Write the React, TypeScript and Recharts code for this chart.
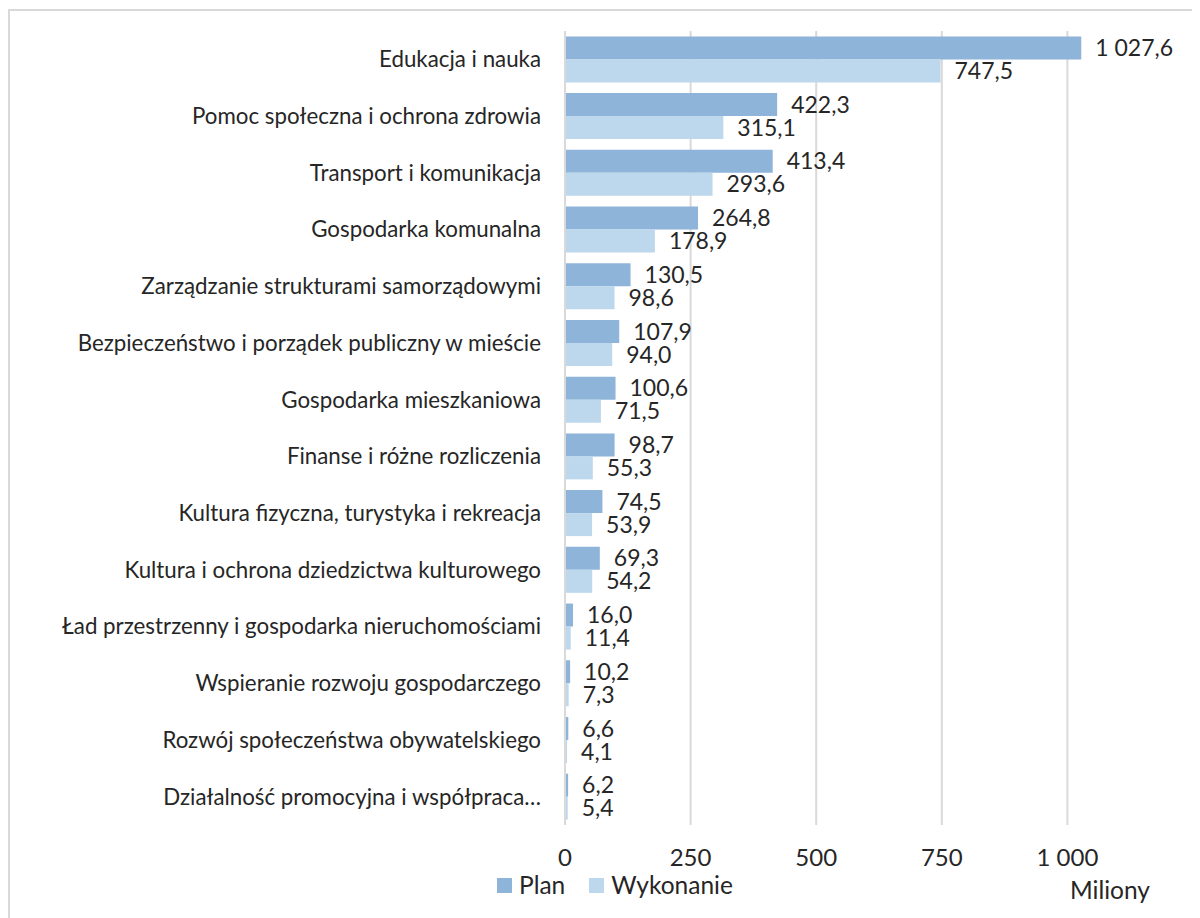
import { BarChart, Bar, XAxis, YAxis, CartesianGrid, LabelList, Legend } from 'recharts';

const categories = [
  'Edukacja i nauka',
  'Pomoc społeczna i ochrona zdrowia',
  'Transport i komunikacja',
  'Gospodarka komunalna',
  'Zarządzanie strukturami samorządowymi',
  'Bezpieczeństwo i porządek publiczny w mieście',
  'Gospodarka mieszkaniowa',
  'Finanse i różne rozliczenia',
  'Kultura fizyczna, turystyka i rekreacja',
  'Kultura i ochrona dziedzictwa kulturowego',
  'Ład przestrzenny i gospodarka nieruchomościami',
  'Wspieranie rozwoju gospodarczego',
  'Rozwój społeczeństwa obywatelskiego',
  'Działalność promocyjna i współpraca…',
];

const plan = [1027.6, 422.3, 413.4, 264.8, 130.5, 107.9, 100.6, 98.7, 74.5, 69.3, 16.0, 10.2, 6.6, 6.2];
const wykonanie = [747.5, 315.1, 293.6, 178.9, 98.6, 94.0, 71.5, 55.3, 53.9, 54.2, 11.4, 7.3, 4.1, 5.4];

const xTicks = [0, 250, 500, 750, 1000];

const COLORS = {
  plan: '#8eb4da',
  wykonanie: '#bdd7ec',
};

const FONT = 'Lato, "Open Sans", sans-serif';
const TEXT = '#262626';

const fmt = (v: any) => {
  const n = Number(v);
  const [int, dec] = n.toFixed(1).split('.');
  return int.replace(/\B(?=(\d{3})+(?!\d))/g, ' ') + ',' + dec;
};

const fmtTick = (v: any) => String(v).replace(/\B(?=(\d{3})+(?!\d))/g, ' ');

const renderLegend = (props: any) => (
  <div style={{ display: 'flex', alignItems: 'center', fontSize: 24.5, color: TEXT, fontFamily: FONT, lineHeight: '28px' }}>
    {props.payload.map((p: any) => (
      <div key={p.value} style={{ display: 'flex', alignItems: 'center', marginRight: 24 }}>
        <span style={{ width: 15, height: 15, background: p.color, marginRight: 7, display: 'inline-block' }} />
        <span>{p.value}</span>
      </div>
    ))}
  </div>
);

export default function App() {
  const data = categories.map((name, i) => ({ name, plan: plan[i], wykonanie: wykonanie[i] }));

  return (
    <div
      style={{
        position: 'relative',
        marginTop: 1,
        width: 1200,
        height: 908,
        borderTop: '2px solid #d9d9d9',
        borderLeft: '2px solid #d9d9d9',
        fontFamily: FONT,
      }}
    >
      <BarChart
        width={1200}
        height={908}
        data={data}
        layout="vertical"
        margin={{ top: 20, right: 17, bottom: 54, left: 0 }}
        barCategoryGap="9.5%"
        barGap={0}
      >
        <CartesianGrid horizontal={false} stroke="#d9d9d9" strokeWidth={2} />
        <XAxis
          type="number"
          domain={[0, 1250]}
          ticks={xTicks}
          axisLine={false}
          tickLine={false}
          tickMargin={18}
          height={40}
          tickFormatter={fmtTick}
          tick={{ fontSize: 24, fill: TEXT, fontFamily: FONT }}
        />
        <YAxis
          type="category"
          dataKey="name"
          width={555}
          axisLine={{ stroke: '#d9d9d9', strokeWidth: 2 }}
          tickLine={false}
          tickMargin={18}
          interval={0}
          tick={{ fontSize: 22.3, fill: TEXT, fontFamily: FONT }}
        />
        <Legend
          layout="horizontal"
          verticalAlign="middle"
          align="center"
          content={renderLegend}
          wrapperStyle={{ top: 860, left: 487, width: 'auto' }}
        />
        <Bar dataKey="plan" name="Plan" fill={COLORS.plan} isAnimationActive={false}>
          <LabelList dataKey="plan" position="right" offset={14} formatter={fmt} style={{ fontSize: 23, fill: TEXT, fontFamily: FONT }} />
        </Bar>
        <Bar dataKey="wykonanie" name="Wykonanie" fill={COLORS.wykonanie} isAnimationActive={false}>
          <LabelList dataKey="wykonanie" position="right" offset={14} formatter={fmt} style={{ fontSize: 23, fill: TEXT, fontFamily: FONT }} />
        </Bar>
      </BarChart>
      <div style={{ position: 'absolute', left: 1060, top: 864, fontSize: 24.5, color: TEXT }}>Miliony</div>
    </div>
  );
}
